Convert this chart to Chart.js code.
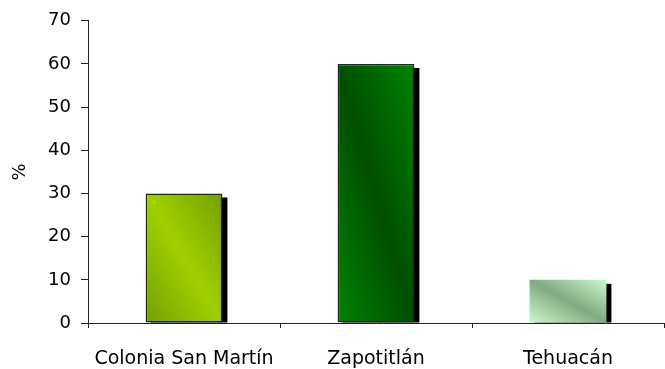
<!DOCTYPE html>
<html>
<head>
<meta charset="utf-8">
<script src="https://cdn.jsdelivr.net/npm/chart.js@4/dist/chart.umd.min.js"></script>
<style>
  html, body { margin: 0; padding: 0; background: #fff; }
  #wrap { width: 665px; height: 369px; }
</style>
</head>
<body>
<div id="wrap"><canvas id="c" width="665" height="369"></canvas></div>
<script>
// Share of records per locality (%)
const categories = ['Colonia San Martín', 'Zapotitlán', 'Tehuacán'];
const percentages = [30, 60, 10];
const yTicks = [0, 10, 20, 30, 40, 50, 60, 70];

// Diagonal two-tone fills: corner colour and the colour of the band
// running from the top-left to the bottom-right corner
const fills = [
  { edge: '#74a000', mid: '#a0d000' },
  { edge: '#008300', mid: '#004f00' },
  { edge: '#caf8ca', mid: '#82aa82' }
];

function diagonalGradient(ctx, left, top, right, bottom, f) {
  const w = right - left, h = bottom - top;
  const cx = (left + right) / 2, cy = (top + bottom) / 2;
  const s = (w * h) / (w * w + h * h);
  const dx = h, dy = -w;   // perpendicular to the top-left -> bottom-right diagonal
  const g = ctx.createLinearGradient(cx + s * dx, cy + s * dy, cx - s * dx, cy - s * dy);
  g.addColorStop(0, f.edge);
  g.addColorStop(0.5, f.mid);
  g.addColorStop(1, f.edge);
  return g;
}

const shadedBars = {
  id: 'shadedBars',
  beforeDatasetsDraw(chart) {
    const ctx = chart.ctx;
    const meta = chart.getDatasetMeta(0);
    meta.data.forEach((bar, i) => {
      const p = bar.getProps(['x', 'y', 'base', 'width'], true);
      const left = p.x - p.width / 2, right = p.x + p.width / 2;
      const top = Math.min(p.y, p.base), bottom = Math.max(p.y, p.base);
      // drop shadow, offset right and down
      ctx.save();
      ctx.fillStyle = '#000';
      ctx.fillRect(left + 5, top + 4, p.width, bottom - top - 4);
      ctx.restore();
      bar.options.backgroundColor = diagonalGradient(ctx, left, top, right, bottom, fills[i]);
    });
  }
};

new Chart(document.getElementById('c'), {
  type: 'bar',
  data: {
    labels: categories,
    datasets: [{
      data: percentages,
      backgroundColor: fills.map(f => f.mid),
      borderColor: '#262626',
      borderWidth: [1.5, 1.5, 0],
      borderSkipped: false,
      categoryPercentage: 1,
      barPercentage: 0.4
    }]
  },
  options: {
    responsive: false,
    animation: false,
    events: [],
    layout: { padding: { top: 20, right: 1, bottom: 0, left: 0 } },
    plugins: { legend: { display: false }, tooltip: { enabled: false } },
    scales: {
      x: {
        afterFit(s) { s.height = 46; },
        border: { display: true, color: '#222', width: 1 },
        grid: { display: true, offset: true, drawOnChartArea: false, drawTicks: true, tickLength: 5, color: '#222' },
        ticks: { color: '#000', padding: 20, font: { family: '"Comic Sans MS", "DejaVu Sans", sans-serif', size: 19 } }
      },
      y: {
        min: 0,
        max: 70,
        afterFit(s) { s.width = 88; },
        afterBuildTicks(s) { s.ticks = yTicks.map(v => ({ value: v })); },
        border: { display: true, color: '#222', width: 1 },
        grid: { display: true, drawOnChartArea: false, drawTicks: true, tickLength: 7, color: '#222' },
        ticks: { color: '#000', padding: 10, font: { family: '"DejaVu Sans", Verdana, sans-serif', size: 18 } },
        title: {
          display: true,
          text: '%',
          color: '#000',
          padding: { top: 10, bottom: 0 },
          font: { family: '"DejaVu Sans", Verdana, sans-serif', size: 18 }
        }
      }
    }
  },
  plugins: [shadedBars]
});
</script>
</body>
</html>
